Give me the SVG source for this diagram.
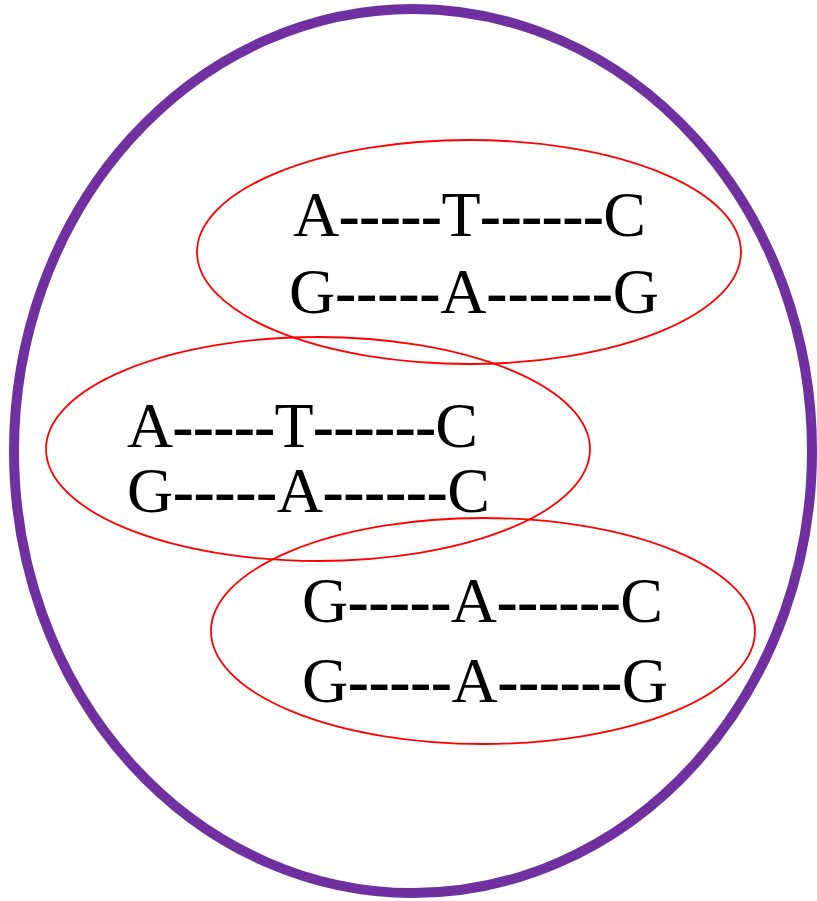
<svg xmlns="http://www.w3.org/2000/svg" width="817" height="901" viewBox="0 0 817 901">
<style>
.outer{fill:none;stroke:#7030A0;stroke-width:10}
.set{fill:none;stroke:#FF0000;stroke-width:1.8}
.t{font-family:"Liberation Serif","Times New Roman",serif;font-size:64px;fill:#000}
.h{font-weight:bold}
</style>
<rect width="817" height="901" fill="#fff"/>
<g id="universe"><ellipse class="outer" cx="413" cy="451" rx="399" ry="442"/></g>
<g id="set1">
<ellipse class="set" cx="469" cy="252" rx="272" ry="112"/>
<text class="t" x="293" y="236" textLength="353" lengthAdjust="spacing">A<tspan class="h">-----</tspan>T<tspan class="h">------</tspan>C</text>
<text class="t" x="289" y="313" textLength="370" lengthAdjust="spacing">G<tspan class="h">-----</tspan>A<tspan class="h">------</tspan>G</text>
</g>
<g id="set2">
<ellipse class="set" cx="318" cy="449" rx="272" ry="112"/>
<text class="t" x="127" y="447" textLength="351" lengthAdjust="spacing">A<tspan class="h">-----</tspan>T<tspan class="h">------</tspan>C</text>
<text class="t" x="127" y="512" textLength="363" lengthAdjust="spacing">G<tspan class="h">-----</tspan>A<tspan class="h">------</tspan>C</text>
</g>
<g id="set3">
<ellipse class="set" cx="483" cy="631" rx="272" ry="113"/>
<text class="t" x="302" y="622" textLength="361" lengthAdjust="spacing">G<tspan class="h">-----</tspan>A<tspan class="h">------</tspan>C</text>
<text class="t" x="302" y="702" textLength="366" lengthAdjust="spacing">G<tspan class="h">-----</tspan>A<tspan class="h">------</tspan>G</text>
</g>
<g id="connectors"></g>
</svg>
